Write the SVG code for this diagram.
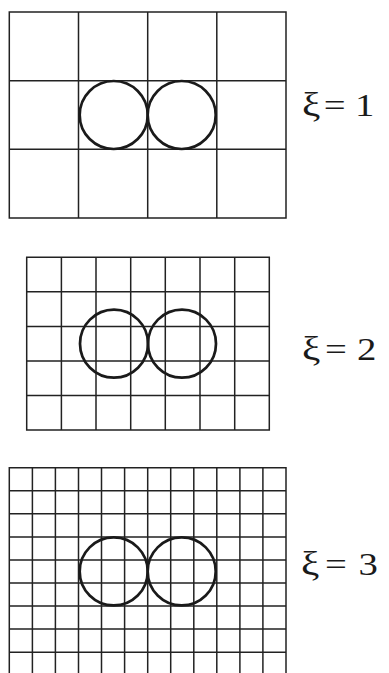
<svg xmlns="http://www.w3.org/2000/svg" width="389" height="673" viewBox="0 0 389 673">
<style>
.grid{fill:none;stroke:#222;stroke-width:1.5}
.ball{fill:none;stroke:#1a1a1a;stroke-width:2.7}
.lbl text{font-family:"Liberation Serif","Times New Roman",serif;font-size:31px;fill:#1a1a1a}
.lbl .xi{font-size:33px}
</style>
<rect width="389" height="673" fill="#fff"/>
<g id="grid-xi1">
<path class="grid" d="M9.3 12H286V218H9.3Z M78.5 12V218 M147.7 12V218 M216.8 12V218 M9.3 80.7H286 M9.3 149.3H286"/>
<circle class="ball" cx="113.7" cy="115" r="34"/>
<circle class="ball" cx="181.7" cy="115" r="34"/>
<g class="lbl" transform="translate(302,116) scale(1.25,1)">
<text class="xi" x="0" y="0">ξ</text><text x="17.5" y="0">=</text><text x="42.5" y="0">1</text>
</g>
</g>
<g id="grid-xi2">
<path class="grid" d="M26.7 257.3H269.3V430H26.7Z M61.4 257.3V430 M96 257.3V430 M130.7 257.3V430 M165.3 257.3V430 M200 257.3V430 M234.7 257.3V430 M26.7 291.8H269.3 M26.7 326.4H269.3 M26.7 360.9H269.3 M26.7 395.4H269.3"/>
<circle class="ball" cx="114" cy="343.7" r="34"/>
<circle class="ball" cx="182" cy="343.7" r="34"/>
<g class="lbl" transform="translate(302,359.5) scale(1.25,1)">
<text class="xi" x="0" y="0">ξ</text><text x="18.4" y="0">=</text><text x="44" y="0">2</text>
</g>
</g>
<g id="grid-xi3">
<path class="grid" d="M9.3 467.7H286V675.2H9.3Z M32.4 467.7V675.2 M55.4 467.7V675.2 M78.5 467.7V675.2 M101.5 467.7V675.2 M124.6 467.7V675.2 M147.7 467.7V675.2 M170.7 467.7V675.2 M193.8 467.7V675.2 M216.8 467.7V675.2 M239.9 467.7V675.2 M262.9 467.7V675.2 M9.3 490.8H286 M9.3 513.8H286 M9.3 536.9H286 M9.3 559.9H286 M9.3 583H286 M9.3 606.1H286 M9.3 629.1H286 M9.3 652.2H286"/>
<circle class="ball" cx="113.7" cy="571.4" r="34"/>
<circle class="ball" cx="181.7" cy="571.4" r="34"/>
<g class="lbl" transform="translate(301,575) scale(1.25,1)">
<text class="xi" x="0" y="0">ξ</text><text x="19.2" y="0">=</text><text x="46" y="0">3</text>
</g>
</g>
<g id="connectors"/>
</svg>
